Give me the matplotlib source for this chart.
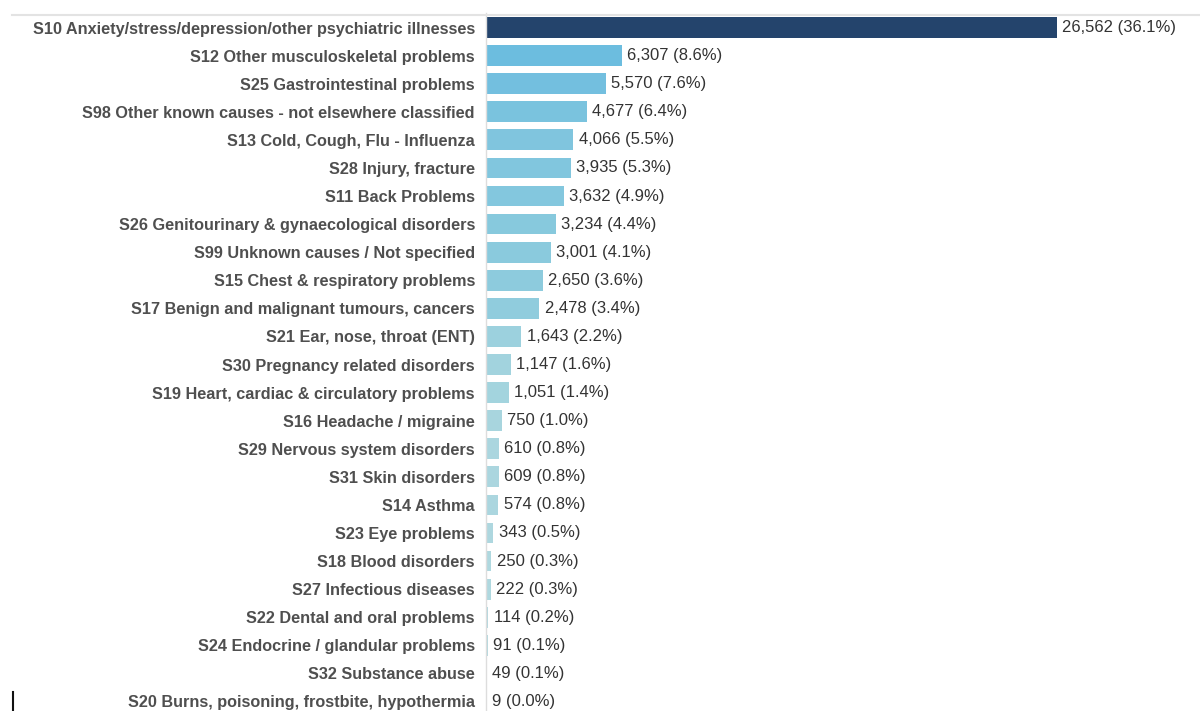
import matplotlib
matplotlib.use("Agg")
import matplotlib.pyplot as plt
from matplotlib.colors import LinearSegmentedColormap
from matplotlib.lines import Line2D

categories = [
    "S10 Anxiety/stress/depression/other psychiatric illnesses",
    "S12 Other musculoskeletal problems",
    "S25 Gastrointestinal problems",
    "S98 Other known causes - not elsewhere classified",
    "S13 Cold, Cough, Flu - Influenza",
    "S28 Injury, fracture",
    "S11 Back Problems",
    "S26 Genitourinary & gynaecological disorders",
    "S99 Unknown causes / Not specified",
    "S15 Chest & respiratory problems",
    "S17 Benign and malignant tumours, cancers",
    "S21 Ear, nose, throat (ENT)",
    "S30 Pregnancy related disorders",
    "S19 Heart, cardiac & circulatory problems",
    "S16 Headache / migraine",
    "S29 Nervous system disorders",
    "S31 Skin disorders",
    "S14 Asthma",
    "S23 Eye problems",
    "S18 Blood disorders",
    "S27 Infectious diseases",
    "S22 Dental and oral problems",
    "S24 Endocrine / glandular problems",
    "S32 Substance abuse",
    "S20 Burns, poisoning, frostbite, hypothermia",
]
values = [26562, 6307, 5570, 4677, 4066, 3935, 3632, 3234, 3001, 2650, 2478,
          1643, 1147, 1051, 750, 610, 609, 574, 343, 250, 222, 114, 91, 49, 9]
percents = ["36.1%", "8.6%", "7.6%", "6.4%", "5.5%", "5.3%", "4.9%", "4.4%",
            "4.1%", "3.6%", "3.4%", "2.2%", "1.6%", "1.4%", "1.0%", "0.8%",
            "0.8%", "0.8%", "0.5%", "0.3%", "0.3%", "0.2%", "0.1%", "0.1%", "0.0%"]

W, H = 1200, 711
fig = plt.figure(figsize=(W / 100, H / 100), dpi=100)
ax = fig.add_axes([486 / W, 1 - 715.5 / H, (W - 486) / W, (715.5 - 13.5) / H])

cmap = LinearSegmentedColormap.from_list(
    "tb", [(0.0, "#b2d9df"), (0.1, "#8ccbdd"), (0.24, "#6bbcdf"), (1.0, "#24446c")])
vmax = max(values)
colors = [cmap(v / vmax) for v in values]

ys = list(range(len(values)))
ax.barh(ys, values, height=0.74, color=colors, edgecolor="none", zorder=2)

for y, v, p in zip(ys, values, percents):
    ax.text(v + 250, y, f"{v:,} ({p})", va="center", ha="left",
            fontsize=12, color="#333333", family="Liberation Sans")

ax.set_xlim(0, 26562 * 714 / 571)
ax.set_ylim(len(values) - 0.5, -0.5)
ax.set_yticks(ys)
ax.set_yticklabels(categories, fontsize=11.7, color="#4f4f4f",
                   family="Liberation Sans", fontweight="bold")
ax.tick_params(axis="y", length=0, pad=8)
ax.set_xticks([])
for s in ["top", "right", "bottom"]:
    ax.spines[s].set_visible(False)
ax.spines["left"].set_color("#dddddd")
ax.spines["left"].set_linewidth(1.0)

fig.add_artist(Line2D([12 / W, 1.0], [1 - 15 / H, 1 - 15 / H], color="#e3e3e3", lw=1.5))
fig.add_artist(Line2D([13 / W, 13 / W], [0, 1 - 692 / H], color="#111111", lw=1.5))

fig.savefig("out.png", dpi=100)
